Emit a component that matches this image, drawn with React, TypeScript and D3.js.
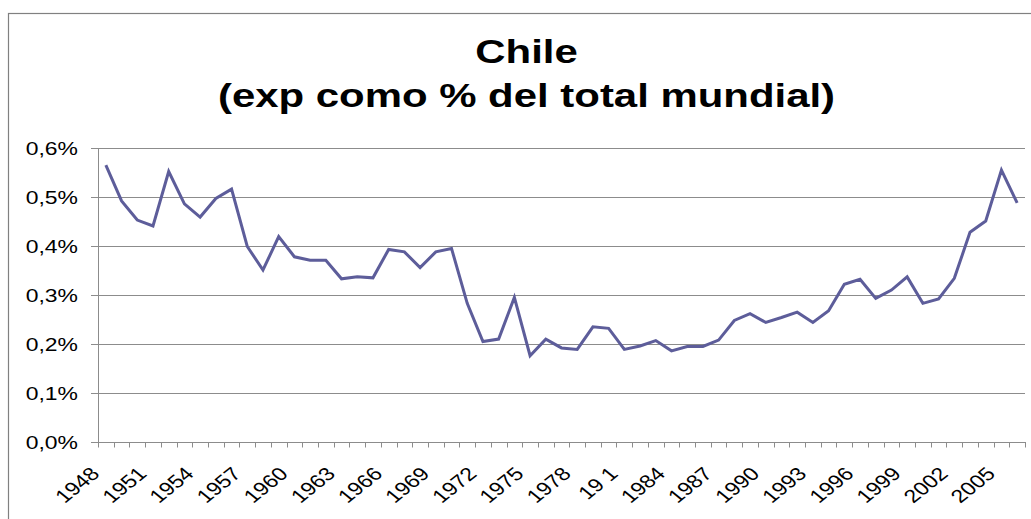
import React from "react";
import * as d3 from "d3";

const years: number[] = d3.range(1948, 2007);
const values: number[] = [
  0.565, 0.492, 0.453, 0.441, 0.552, 0.486, 0.459, 0.497, 0.516, 0.399,
  0.351, 0.419, 0.378, 0.371, 0.371, 0.333, 0.337, 0.335, 0.393, 0.388,
  0.356, 0.388, 0.395, 0.283, 0.205, 0.210, 0.295, 0.176, 0.210, 0.192,
  0.189, 0.235, 0.232, 0.189, 0.196, 0.207, 0.186, 0.195, 0.195, 0.208,
  0.248, 0.262, 0.244, 0.254, 0.265, 0.244, 0.268, 0.322, 0.332, 0.293,
  0.310, 0.337, 0.283, 0.292, 0.334, 0.428, 0.451, 0.555, 0.488,
];
const tickYears: number[] = d3.range(1948, 2007, 3);
const tickLabels: string[] = [
  "1948", "1951", "1954", "1957", "1960", "1963", "1966", "1969", "1972", "1975",
  "1978", "19 1", "1984", "1987", "1990", "1993", "1996", "1999", "2002", "2005",
];
const yTicks: number[] = [0, 0.1, 0.2, 0.3, 0.4, 0.5, 0.6];
const titleLines: string[] = ["Chile", "(exp como % del total mundial)"];

const SX = 1.24;
const TSX = 1.29;

export default function App() {
  const x = d3.scaleBand<number>().domain(years).range([98, 1025]).padding(0);
  const y = d3.scaleLinear().domain([0, 0.6]).range([442, 148]);
  const bw = x.bandwidth();
  const line = d3
    .line<number>()
    .x((_, i) => (x(years[i]) as number) + bw / 2)
    .y((v) => y(v));
  const boundaries = d3.range(years.length + 1).map((i) => 98 + i * bw);
  const fmt = (v: number) => v.toFixed(1).replace(".", ",") + "%";
  const font = "'Liberation Sans', Arial, sans-serif";

  return (
    <div style={{ position: "absolute", left: 0, top: 0 }}>
      <svg width={1031} height={519} style={{ display: "block", background: "#fff" }}>
        <rect x={8.5} y={13.5} width={1040} height={520} fill="#fff" stroke="#808080" strokeWidth={1.2} />
        {titleLines.map((t, i) => (
          <text
            key={t}
            transform={`translate(526.5,${i === 0 ? 62.5 : 107}) scale(${TSX},1)`}
            textAnchor="middle"
            fontFamily={font}
            fontWeight="bold"
            fontSize={32.5}
            fill="#000"
          >
            {t}
          </text>
        ))}
        {yTicks.map((t) => (
          <line key={"g" + t} x1={91} x2={1025} y1={Math.round(y(t)) + 0.5} y2={Math.round(y(t)) + 0.5} stroke="#8c8c8c" strokeWidth={1} />
        ))}
        <line x1={98.5} x2={98.5} y1={148} y2={442.5} stroke="#8c8c8c" />
        {boundaries.map((b, i) => (
          <line key={"t" + i} x1={Math.round(b) + 0.5} x2={Math.round(b) + 0.5} y1={442} y2={447.5} stroke="#8c8c8c" />
        ))}
        {yTicks.map((t) => (
          <text
            key={"l" + t}
            transform={`translate(78,${y(t) + 6.5}) scale(${SX},1)`}
            textAnchor="end"
            fontFamily={font}
            fontSize={18.5}
            fill="#000"
          >
            {fmt(t)}
          </text>
        ))}
        {tickYears.map((yr, i) => {
          const cx = (x(yr) as number) + bw / 2;
          return (
            <text
              key={"x" + yr}
              transform={`translate(${cx - 5},${475}) scale(${SX},1) rotate(-45)`}
              textAnchor="end"
              fontFamily={font}
              fontSize={18.5}
              fill="#000"
            >
              {tickLabels[i]}
            </text>
          );
        })}
        <path d={line(values) || ""} fill="none" stroke="#5d5d9a" strokeWidth={3} strokeLinejoin="miter" />
      </svg>
    </div>
  );
}
